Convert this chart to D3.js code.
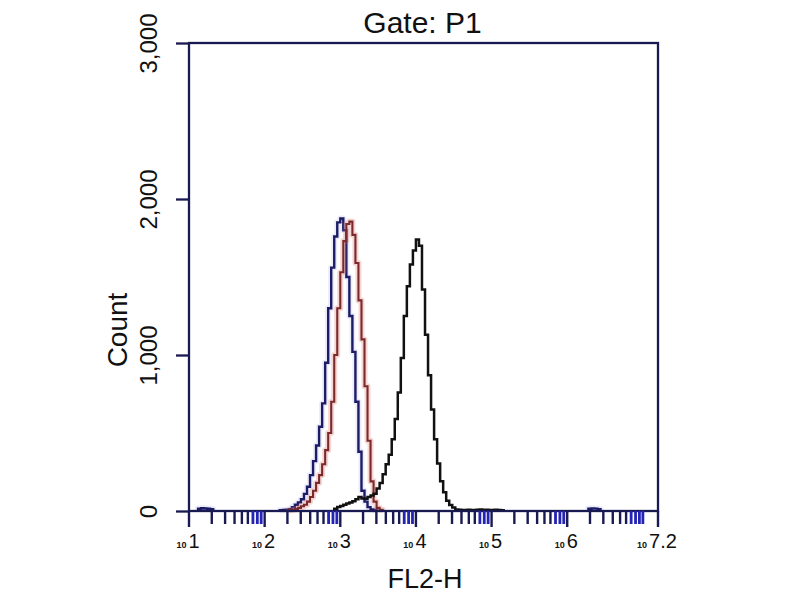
<!DOCTYPE html>
<html lang="en">
<head>
<meta charset="UTF-8">
<title>Gate: P1</title>
<script src="https://d3js.org/d3.v7.min.js"></script>
<style>
    body { margin: 0; background: #fff; }
    svg { display: block; font-family: "Liberation Sans", Arial, sans-serif; }
</style>
</head>
<body>
<svg id="chart" width="800" height="600"></svg>
<script>
// histogram bins: log10 channels, 0.04 decade wide, starting at 10^1
const binOrigin = 1;
const binWidth = 0.04;

// blue histogram (counts per bin), split in segments {start bin, counts}
const blueSegments = [
    { start: 3, counts: [14, 18, 16, 14, 12] },
    { start: 30, counts: [5, 6, 8, 12, 25, 40, 55, 75, 110, 155, 230, 320, 420, 540, 690, 950,
        1300, 1560, 1760, 1850, 1875, 1800, 1500, 1250, 1020, 700, 380, 130, 60, 25, 10, 5] },
    { start: 132, counts: [14, 16, 15, 12] }
];
// red histogram
const redSegments = [
    { start: 33, counts: [5, 8, 12, 20, 30, 40, 60, 90, 130, 180, 230, 300, 390, 500, 700, 1000,
        1300, 1530, 1730, 1840, 1855, 1770, 1590, 1350, 1100, 800, 450, 190, 60, 20, 8] }
];
// black histogram
const blackSegments = [
    { start: 48, counts: [15, 25, 32, 40, 48, 55, 62, 75, 90, 80, 78, 90, 100, 110, 145, 180, 235,
        300, 360, 460, 590, 760, 980, 1250, 1440, 1580, 1670, 1740, 1700, 1420, 1130, 870, 650,
        460, 305, 190, 120, 65, 38, 22, 10, 8, 6, 7, 8, 6, 7, 8, 9, 7, 8, 6, 7, 8, 6, 5] }
];

const yTicks = [0, 1000, 2000, 3000];
const xDecades = [1, 2, 3, 4, 5, 6];
const xEndExp = 7.2;

const svg = d3.select("#chart");
const plotLeft = 189, plotRight = 658, plotTop = 43, plotBottom = 511;
const axisColor = "#1a1a52";

const x = d3.scaleLog().domain([10, Math.pow(10, xEndExp)]).range([plotLeft, plotRight]);
const y = d3.scaleLinear().domain([0, 3000]).range([plotBottom, plotTop]);

const edge = k => Math.pow(10, binOrigin + k * binWidth);

// title
svg.append("text")
    .attr("x", (plotLeft + plotRight) / 2 - 1).attr("y", 33)
    .attr("text-anchor", "middle")
    .attr("font-size", 30).attr("fill", "#111")
    .text("Gate: P1");

// histogram paths
const line = d3.line().x(d => x(d[0])).y(d => y(d[1]));

function segmentPoints(seg) {
    const pts = [[edge(seg.start), 0]];
    seg.counts.forEach((c, i) => {
        pts.push([edge(seg.start + i), c]);
        pts.push([edge(seg.start + i + 1), c]);
    });
    pts.push([edge(seg.start + seg.counts.length), 0]);
    return pts;
}

function drawSeries(segments, color, width, halo) {
    const g = svg.append("g");
    segments.forEach(seg => {
        const d = line(segmentPoints(seg));
        if (halo) {
            g.append("path").attr("d", d).attr("fill", "none")
                .attr("stroke", halo).attr("stroke-width", 6).attr("stroke-linejoin", "round");
        }
        g.append("path").attr("d", d).attr("fill", "none")
            .attr("stroke", color).attr("stroke-width", width);
    });
}

drawSeries(blueSegments, "#1c1c66", 2.4, "rgba(120,120,220,0.15)");
drawSeries(redSegments, "#7a2a2c", 2.1, "rgba(225,120,110,0.3)");
drawSeries(blackSegments, "#111", 2.5, null);

// frame
svg.append("rect")
    .attr("x", plotLeft).attr("y", plotTop)
    .attr("width", plotRight - plotLeft).attr("height", plotBottom - plotTop)
    .attr("fill", "none").attr("stroke", axisColor).attr("stroke-width", 2.3);

// y axis
const yAxis = svg.append("g")
    .attr("transform", `translate(${plotLeft},0)`)
    .call(d3.axisLeft(y).tickValues(yTicks).tickSize(13).tickSizeOuter(0).tickFormat(""));
yAxis.select(".domain").remove();
yAxis.selectAll(".tick line").attr("stroke", axisColor).attr("stroke-width", 2.3);
yAxis.selectAll(".tick").append("text")
    .attr("transform", "translate(-32,0) rotate(-90)")
    .attr("text-anchor", "middle")
    .attr("fill", "#111").attr("font-size", 24)
    .text(d => d3.format(",")(d));

svg.append("text")
    .attr("transform", "translate(127,330) rotate(-90)")
    .attr("text-anchor", "middle")
    .attr("font-size", 28).attr("fill", "#111")
    .text("Count");

// x axis: minor ticks 2..9 in every decade, major at decades
const minor = [];
for (let e = 1; e <= 7; e++) {
    for (let m = 2; m <= 9; m++) {
        const v = m * Math.pow(10, e);
        if (v < Math.pow(10, xEndExp)) minor.push({ v: v, m: m });
    }
}
minor.push({ v: 1e7, m: 10 });

const xAxis = svg.append("g").attr("transform", `translate(0,${plotBottom})`);
xAxis.selectAll(".minor").data(minor).join("line")
    .attr("class", "minor")
    .attr("x1", d => x(d.v)).attr("x2", d => x(d.v))
    .attr("y1", 0).attr("y2", 13)
    .attr("stroke", d => d.m >= 7 ? "#2424b4" : axisColor)
    .attr("stroke-width", d => d.m >= 7 ? 2.8 : 2.4);

const majors = xDecades.map(e => Math.pow(10, e)).concat([Math.pow(10, xEndExp)]);
xAxis.selectAll(".major").data(majors).join("line")
    .attr("class", "major")
    .attr("x1", d => x(d)).attr("x2", d => x(d))
    .attr("y1", 0).attr("y2", 16)
    .attr("stroke", axisColor).attr("stroke-width", 2.4);

const labelExps = xDecades.map(String).concat([String(xEndExp)]);
const labels = svg.append("g").selectAll("text").data(labelExps).join("text")
    .attr("x", d => x(Math.pow(10, +d)) - 1)
    .attr("y", 548)
    .attr("text-anchor", "middle")
    .attr("fill", "#111");
labels.append("tspan").attr("font-size", 9).attr("font-weight", "bold").text("10");
labels.append("tspan").attr("font-size", 20).attr("dx", 2).text(d => d);

svg.append("text")
    .attr("x", 425).attr("y", 588)
    .attr("text-anchor", "middle")
    .attr("font-size", 27).attr("fill", "#111")
    .text("FL2-H");
</script>
</body>
</html>
